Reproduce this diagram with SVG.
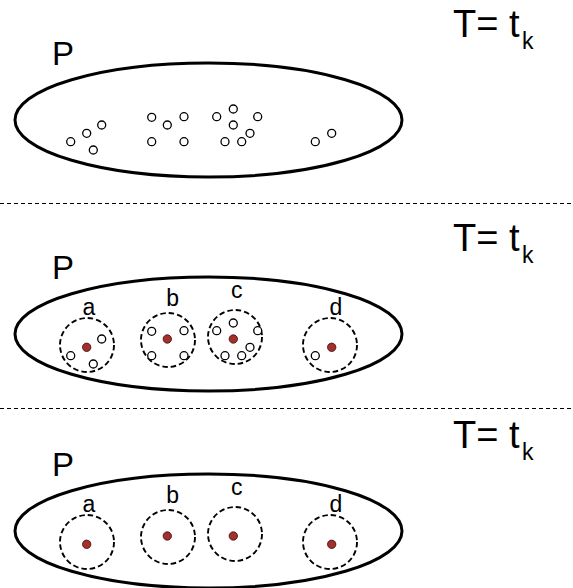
<svg xmlns="http://www.w3.org/2000/svg" width="573" height="588" viewBox="0 0 573 588">
<style>
.pop{fill:none;stroke:#000;stroke-width:3}
.clu{fill:none;stroke:#000;stroke-width:1.9;stroke-dasharray:5.5 3}
.pt{fill:#fff;stroke:#000;stroke-width:1.3}
.ctr{fill:#a3302b;stroke:#3a0b0b;stroke-width:0.8}
.sep{stroke:#000;stroke-width:1;stroke-dasharray:4 3}
.t{font-family:"Liberation Sans",Arial,sans-serif;fill:#000}
.big{font-size:38px}
.sub{font-size:23px}
.p{font-size:33px}
.lbl{font-size:23px;text-anchor:middle}
</style>
<rect width="573" height="588" fill="#fff"/>
<g id="connectors">
<line class="sep" x1="0" y1="203.5" x2="573" y2="203.5"/>
<line class="sep" x1="0" y1="408.5" x2="573" y2="408.5"/>
</g>
<g id="panel1">
<text class="t big" x="453" y="37">T= t<tspan class="sub" x="522" y="49">k</tspan></text>
<text class="t p" x="52" y="65">P</text>
<ellipse id="P1" class="pop" cx="208.5" cy="120" rx="193.5" ry="57"/>
<g id="points1">
<circle class="pt" cx="70.7" cy="141.7" r="4"/>
<circle class="pt" cx="86.7" cy="133.3" r="4"/>
<circle class="pt" cx="101.7" cy="125" r="4"/>
<circle class="pt" cx="93.3" cy="150" r="4"/>
<circle class="pt" cx="151.7" cy="117.3" r="4"/>
<circle class="pt" cx="167.3" cy="125" r="4"/>
<circle class="pt" cx="184" cy="116.7" r="4"/>
<circle class="pt" cx="151.7" cy="141.7" r="4"/>
<circle class="pt" cx="184" cy="141.7" r="4"/>
<circle class="pt" cx="216.7" cy="116.7" r="4"/>
<circle class="pt" cx="233.3" cy="109" r="4"/>
<circle class="pt" cx="257.7" cy="116.7" r="4"/>
<circle class="pt" cx="233.3" cy="125" r="4"/>
<circle class="pt" cx="250" cy="133.3" r="4"/>
<circle class="pt" cx="225" cy="141.7" r="4"/>
<circle class="pt" cx="241.7" cy="141.7" r="4"/>
<circle class="pt" cx="315.3" cy="141.7" r="4"/>
<circle class="pt" cx="331.7" cy="133.3" r="4"/>
</g>
</g>
<g id="panel2" transform="translate(0,214)">
<text class="t big" x="453" y="37">T= t<tspan class="sub" x="522" y="49">k</tspan></text>
<text class="t p" x="52" y="65">P</text>
<ellipse id="P2" class="pop" cx="208.5" cy="120" rx="193.5" ry="57"/>
<g id="cluster2a">
<circle class="clu" cx="87" cy="131" r="27"/>
<text class="t lbl" x="89" y="101">a</text>
<circle class="pt" cx="70.7" cy="141.7" r="4"/>
<circle class="pt" cx="101.7" cy="125" r="4"/>
<circle class="pt" cx="93.3" cy="150" r="4"/>
<circle class="ctr" cx="86.7" cy="133.3" r="4.2"/>
</g>
<g id="cluster2b">
<circle class="clu" cx="168" cy="126" r="27"/>
<text class="t lbl" x="172.7" y="92">b</text>
<circle class="pt" cx="151.7" cy="117.3" r="4"/>
<circle class="pt" cx="184" cy="116.7" r="4"/>
<circle class="pt" cx="151.7" cy="141.7" r="4"/>
<circle class="pt" cx="184" cy="141.7" r="4"/>
<circle class="ctr" cx="167.3" cy="125" r="4.2"/>
</g>
<g id="cluster2c">
<circle class="clu" cx="235" cy="123" r="27"/>
<text class="t lbl" x="236.7" y="84">c</text>
<circle class="pt" cx="216.7" cy="116.7" r="4"/>
<circle class="pt" cx="233.3" cy="109" r="4"/>
<circle class="pt" cx="257.7" cy="116.7" r="4"/>
<circle class="pt" cx="250" cy="133.3" r="4"/>
<circle class="pt" cx="225" cy="141.7" r="4"/>
<circle class="pt" cx="241.7" cy="141.7" r="4"/>
<circle class="ctr" cx="233.3" cy="125" r="4.2"/>
</g>
<g id="cluster2d">
<circle class="clu" cx="330" cy="131" r="27"/>
<text class="t lbl" x="336" y="101">d</text>
<circle class="pt" cx="315.3" cy="141.7" r="4"/>
<circle class="ctr" cx="331.7" cy="133.3" r="4.2"/>
</g>
</g>
<g id="panel3" transform="translate(0,411)">
<text class="t big" x="453" y="37">T= t<tspan class="sub" x="522" y="49">k</tspan></text>
<text class="t p" x="52" y="65">P</text>
<ellipse id="P3" class="pop" cx="208.5" cy="120" rx="193.5" ry="57"/>
<g id="cluster3a">
<circle class="clu" cx="87" cy="131" r="27"/>
<text class="t lbl" x="89" y="101">a</text>
<circle class="ctr" cx="86.7" cy="133.3" r="4.2"/>
</g>
<g id="cluster3b">
<circle class="clu" cx="168" cy="126" r="27"/>
<text class="t lbl" x="172.7" y="92">b</text>
<circle class="ctr" cx="167.3" cy="125" r="4.2"/>
</g>
<g id="cluster3c">
<circle class="clu" cx="235" cy="123" r="27"/>
<text class="t lbl" x="236.7" y="84">c</text>
<circle class="ctr" cx="233.3" cy="125" r="4.2"/>
</g>
<g id="cluster3d">
<circle class="clu" cx="330" cy="131" r="27"/>
<text class="t lbl" x="336" y="101">d</text>
<circle class="ctr" cx="331.7" cy="133.3" r="4.2"/>
</g>
</g>
</svg>
